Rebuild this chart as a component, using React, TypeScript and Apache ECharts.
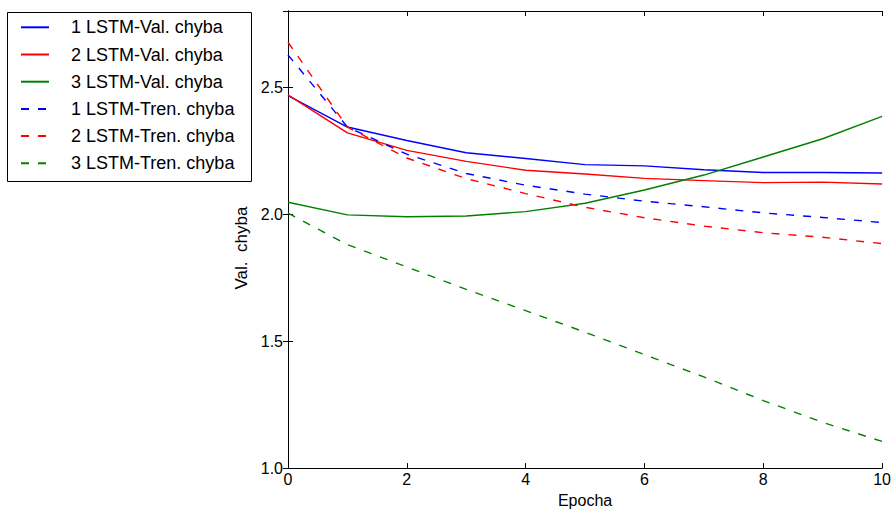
import React, { useEffect, useRef } from "react";
import * as echarts from "echarts";

const epochs = [0, 1, 2, 3, 4, 5, 6, 7, 8, 9, 10];
const val1 = [2.467, 2.343, 2.29, 2.242, 2.219, 2.195, 2.19, 2.175, 2.164, 2.164, 2.162];
const val2 = [2.47, 2.32, 2.251, 2.208, 2.173, 2.158, 2.141, 2.132, 2.124, 2.126, 2.119];
const val3 = [2.047, 1.997, 1.99, 1.993, 2.01, 2.043, 2.095, 2.154, 2.225, 2.297, 2.385];
const tr1 = [2.627, 2.343, 2.236, 2.16, 2.114, 2.079, 2.051, 2.029, 2.005, 1.987, 1.967];
const tr2 = [2.677, 2.343, 2.221, 2.14, 2.081, 2.027, 1.986, 1.953, 1.927, 1.909, 1.884];
const tr3 = [2.004, 1.88, 1.792, 1.704, 1.62, 1.535, 1.447, 1.359, 1.266, 1.18, 1.105];

const seriesNames = [
  "1 LSTM-Val. chyba",
  "2 LSTM-Val. chyba",
  "3 LSTM-Val. chyba",
  "1 LSTM-Tren. chyba",
  "2 LSTM-Tren. chyba",
  "3 LSTM-Tren. chyba",
];
const seriesValues = [val1, val2, val3, tr1, tr2, tr3];
const seriesColors = ["#0000ff", "#ff0000", "#008000", "#0000ff", "#ff0000", "#008000"];
const seriesDashed = [false, false, false, true, true, true];

const xName = "Epocha";
const yName = "Val.  chyba";

const FONT = "Liberation Sans, Arial, sans-serif";

export default function App() {
  const ref = useRef<HTMLDivElement>(null);
  useEffect(() => {
    if (!ref.current) return;
    const chart = echarts.init(ref.current, null, { renderer: "svg" });
    const axisCommon = {
      axisLine: { show: true, lineStyle: { color: "#000", width: 1 } },
      axisTick: { show: true, inside: true, length: 5, lineStyle: { color: "#000", width: 1 } },
      splitLine: { show: false },
    };
    chart.setOption({
      animation: false,
      backgroundColor: "#fff",
      textStyle: { fontFamily: FONT },
      grid: { left: 288, right: 9, top: 11, bottom: 41, containLabel: false },
      graphic: [
        {
          type: "rect",
          shape: { x: 7.5, y: 12.5, width: 244, height: 169 },
          style: { fill: "#fff", stroke: "#000", lineWidth: 1 },
          z: 0,
        },
      ],
      legend: {
        orient: "vertical",
        left: 20,
        top: 18.3,
        padding: 0,
        itemWidth: 28,
        itemHeight: 18,
        itemGap: 9.2,
        data: seriesNames,
        itemStyle: { color: "rgba(0,0,0,0)", borderWidth: 0, opacity: 0 },
        textStyle: { fontSize: 18, color: "#000", fontFamily: FONT, padding: [0, 0, 0, 17] },
        z: 5,
      },
      xAxis: [
        {
          type: "value",
          min: 0,
          max: 10,
          interval: 2,
          position: "bottom",
          name: xName,
          nameLocation: "middle",
          nameGap: 21,
          nameTextStyle: { fontSize: 16, color: "#000", fontFamily: FONT },
          axisLabel: { fontSize: 16, color: "#000", margin: 3, fontFamily: FONT },
          ...axisCommon,
        },
        {
          type: "value",
          min: 0,
          max: 10,
          interval: 2,
          position: "top",
          axisLabel: { show: false },
          ...axisCommon,
        },
      ],
      yAxis: [
        {
          type: "value",
          min: 1.0,
          max: 2.8,
          interval: 0.5,
          position: "left",
          name: yName,
          nameLocation: "middle",
          nameGap: 34,
          nameTextStyle: { fontSize: 17, color: "#000", fontFamily: FONT, padding: [0, 17, 0, 0] },
          axisLabel: {
            fontSize: 16,
            color: "#000",
            margin: 5,
            fontFamily: FONT,
            showMaxLabel: false,
            formatter: (v: number) => (Math.abs(v - 2.8) < 1e-6 ? "" : v.toFixed(1)),
          },
          ...axisCommon,
        },
        {
          type: "value",
          min: 1.0,
          max: 2.8,
          interval: 0.5,
          position: "right",
          axisLabel: { show: false },
          ...axisCommon,
        },
      ],
      series: seriesNames.map((name, i) => ({
        name,
        type: "line",
        xAxisIndex: 0,
        yAxisIndex: 0,
        showSymbol: false,
        symbol: "none",
        color: seriesColors[i],
        lineStyle: {
          color: seriesColors[i],
          width: 1.4,
          type: seriesDashed[i] ? [8, 9] : "solid",
        },
        data: epochs.map((x, j) => [x, seriesValues[i][j]]),
        z: 2,
      })),
    });
    return () => chart.dispose();
  }, []);
  return (
    <div
      ref={ref}
      style={{ position: "fixed", left: 0, top: 0, width: 894, height: 513 }}
    />
  );
}
